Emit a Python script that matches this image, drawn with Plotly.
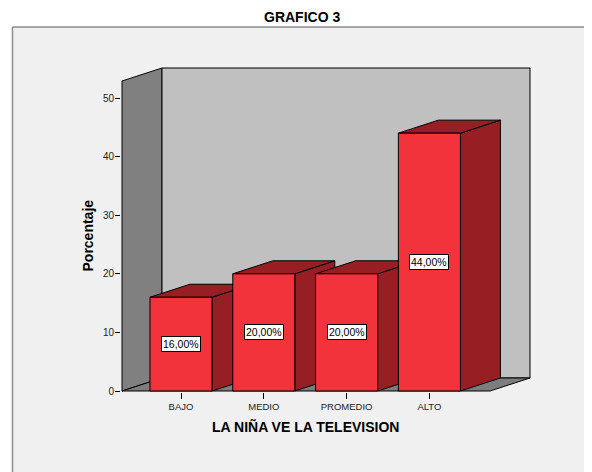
import plotly.graph_objects as go

categories = ["BAJO", "MEDIO", "PROMEDIO", "ALTO"]
values = [16, 20, 20, 44]
y_ticks = [0, 10, 20, 30, 40, 50]

# geometry (data units)
BAR_W = 0.749
DX = 0.483          # depth offset in category units
DY = 2.22           # depth offset in value units
WALL_TOP = 52.9
X_LEFT = (122 - 181) / 82.8
X_RIGHT = (530 - 181) / 82.8

FRONT = "#f2333b"
SIDE = "#971e23"
WALL_L = "#808080"
WALL_B = "#c0c0c0"
FLOOR = "#7d7d7d"
FONT = "Arial, Liberation Sans, sans-serif"

# the page body has an 8px margin: the figure is shrunk by it
BODY = 8

fig = go.Figure()


def poly(xs, ys, color):
    fig.add_trace(go.Scatter(
        x=xs + [xs[0]], y=ys + [ys[0]], mode="lines", fill="toself",
        fillcolor=color, line=dict(color="black", width=1),
        hoverinfo="skip", showlegend=False))


# walls and floor
poly([X_LEFT, X_LEFT, X_LEFT + DX, X_LEFT + DX],
     [0, WALL_TOP, WALL_TOP + DY, DY], WALL_L)
poly([X_LEFT + DX, X_RIGHT, X_RIGHT, X_LEFT + DX],
     [DY, DY, WALL_TOP + DY, WALL_TOP + DY], WALL_B)
poly([X_LEFT, X_RIGHT - DX, X_RIGHT, X_LEFT + DX],
     [0, 0, DY, DY], FLOOR)

# bars, painted left to right
for i, v in enumerate(values):
    l, r = i - BAR_W / 2, i + BAR_W / 2
    poly([r, r, r + DX, r + DX], [0, v, v + DY, DY], SIDE)
    poly([l, r, r + DX, l + DX], [v, v, v + DY, v + DY], SIDE)
    poly([l, r, r, l], [0, 0, v, v], FRONT)

annotations = []
for i, v in enumerate(values):
    annotations.append(dict(
        x=i, y=v / 2, xref="x", yref="y", showarrow=False,
        xanchor="center", yanchor="middle",
        text=f"{v:.2f}".replace(".", ",") + "%",
        font=dict(family=FONT, size=10.5, color="black"),
        bgcolor="white", bordercolor="black", borderwidth=1, borderpad=1))


def px_x(p):
    return (p - 121) / 410


def px_y(p):
    return (392 - p) / 325


annotations += [
    dict(text="<b>GRAFICO 3</b>", x=px_x(302), y=px_y(17), xref="paper", yref="paper",
         xanchor="center", yanchor="middle",
         showarrow=False, font=dict(family=FONT, size=14, color="black")),
    dict(text="<b>LA NIÑA VE LA TELEVISION</b>", x=px_x(305.5), y=px_y(426),
         xref="paper", yref="paper", showarrow=False,
         xanchor="center", yanchor="middle",
         font=dict(family=FONT, size=14, color="black")),
    dict(text="<b>Porcentaje</b>", x=px_x(87.5), y=px_y(236), xref="paper", yref="paper",
         xanchor="center", yanchor="middle",
         showarrow=False, textangle=-90, font=dict(family=FONT, size=14, color="black")),
]

frame_line = dict(color="#8c8c8c", width=1.5)
shapes = [
    dict(type="rect", xref="paper", yref="paper",
         x0=px_x(12.5), x1=px_x(700), y0=px_y(600), y1=px_y(27),
         fillcolor="#f0f0f0", line=dict(width=0), layer="below"),
    dict(type="line", xref="paper", yref="paper",
         x0=px_x(12.5), x1=px_x(700), y0=px_y(27), y1=px_y(27),
         line=frame_line, layer="below"),
    dict(type="line", xref="paper", yref="paper",
         x0=px_x(12.5), x1=px_x(12.5), y0=px_y(27), y1=px_y(600),
         line=frame_line, layer="below"),
]

fig.update_layout(
    width=592 - BODY, height=472 - BODY,
    margin=dict(l=121 - BODY, r=61, t=67 - BODY, b=80),
    paper_bgcolor="white", plot_bgcolor="rgba(0,0,0,0)",
    showlegend=False,
    annotations=annotations,
    shapes=shapes,
    xaxis=dict(range=[(121 - 181) / 82.8, (531 - 181) / 82.8],
               tickmode="array", tickvals=list(range(len(categories))),
               ticktext=categories, ticks="outside", ticklen=6, tickcolor="black",
               showgrid=False, zeroline=False, showline=False,
               tickfont=dict(family=FONT, size=9.5, color="#222")),
    yaxis=dict(range=[-1 / 5.86, 324 / 5.86], tickmode="array", tickvals=y_ticks,
               ticks="outside", ticklen=5, tickcolor="black", ticklabelstandoff=-1,
               showgrid=False, zeroline=False, showline=False,
               tickfont=dict(family=FONT, size=10, color="#222")),
)

fig.write_html("out.html")
